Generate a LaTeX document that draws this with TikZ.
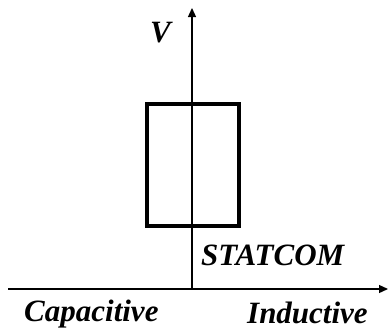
\documentclass[tikz,border=0pt]{standalone}
\usepackage{fontspec}
\setmainfont{Liberation Serif}
\usetikzlibrary{arrows.meta, positioning}
\tikzset{
  axisline/.style={-{Triangle[length=9pt,width=8pt]}, line width=1.3pt, color=black},
  bandbox/.style={rectangle, draw=black, line width=3.2pt, minimum width=92pt,
                  minimum height=122pt, inner sep=0pt},
  axislabel/.style={font=\fontsize{31}{34}\selectfont\bfseries\itshape,
                    inner sep=0pt, anchor=base west}
}
\begin{document}
\begin{tikzpicture}[x=1pt, y=-1pt]
  \useasboundingbox (0,0) rectangle (388,330);

  % Axes
  \coordinate (origin) at (192,289);
  \coordinate (xstart) at (8,289);
  \coordinate (xend) at (388,289);
  \coordinate (yend) at (192,8);
  \draw[axisline] (xstart) -- (xend);
  \draw[axisline] (origin) -- (yend);

  % Operating region
  \node[bandbox] (band) at (193,165) {};

  % Labels
  \node[axislabel] (vlabel) at (150,42) {V};
  \node[axislabel] (statcom) at (201,265) {STATCOM};
  \node[axislabel] (cap) at (24,321) {Capacitive};
  \node[axislabel] (ind) at (247,323) {Inductive};
\end{tikzpicture}
\end{document}
